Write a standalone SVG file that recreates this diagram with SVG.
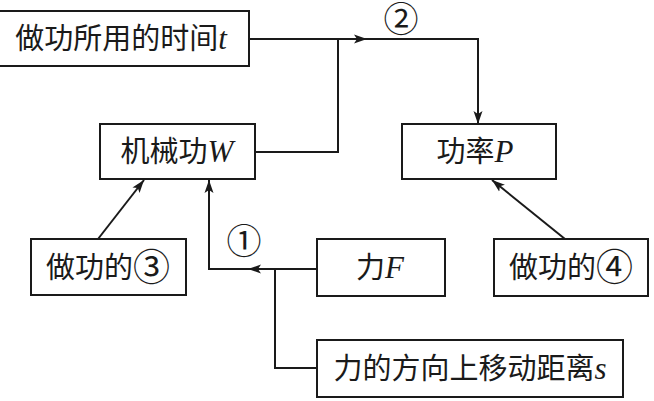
<svg xmlns="http://www.w3.org/2000/svg" width="654" height="401" viewBox="0 0 654 401">
<style>
.box{fill:#fff;stroke:#1a1a1a;stroke-width:2}
.t{font-family:"Noto Sans CJK SC","Noto Sans",sans-serif;font-size:29px;fill:#1a1a1a;text-anchor:middle}
.v{font-family:"Liberation Serif",serif;font-style:italic;font-size:31px}
.c{fill:none;stroke:#1a1a1a;stroke-width:2}
.n{font-family:"Noto Sans CJK SC",sans-serif;font-size:35px;fill:#1a1a1a;text-anchor:middle}
.d{font-family:"Noto Sans CJK SC",sans-serif;font-size:37px}
</style>
<defs>
<marker id="ah" markerUnits="userSpaceOnUse" markerWidth="14" markerHeight="10" refX="13" refY="5" orient="auto">
<path d="M0,0.5 L13,5 L0,9.5 L3,5 z" fill="#1a1a1a"/>
</marker>
</defs>
<rect width="654" height="401" fill="#fff"/>
<g id="connectors">
<path class="c" d="M249,39 H367" marker-end="url(#ah)"/>
<path class="c" d="M365,39 H478 V124" marker-end="url(#ah)"/>
<path class="c" d="M255,152 H338 V39"/>
<path class="c" d="M98,239 L144,180" marker-end="url(#ah)"/>
<path class="c" d="M317,269 H248" marker-end="url(#ah)"/>
<path class="c" d="M250,269 H209 V180" marker-end="url(#ah)"/>
<path class="c" d="M317,368 H275 V269"/>
<path class="c" d="M565,239 L492,180" marker-end="url(#ah)"/>
<text class="n" x="401" y="32">②</text>
<text class="n" x="244" y="254">①</text>
</g>
<g id="time">
<rect class="box" x="-1" y="11" width="250" height="55"/>
<text class="t" x="121" y="49">做功所用的时间<tspan class="v">t</tspan></text>
</g>
<g id="work">
<rect class="box" x="100" y="124" width="155" height="55"/>
<text class="t" x="177" y="162">机械功<tspan class="v">W</tspan></text>
</g>
<g id="power">
<rect class="box" x="402" y="124" width="154" height="55"/>
<text class="t" x="475" y="162">功率<tspan class="v">P</tspan></text>
</g>
<g id="work3">
<rect class="box" x="31" y="239" width="155" height="56"/>
<text class="t" x="108" y="278">做功的<tspan class="d" dy="3">③</tspan></text>
</g>
<g id="force">
<rect class="box" x="317" y="239" width="128" height="57"/>
<text class="t" x="380" y="278">力<tspan class="v">F</tspan></text>
</g>
<g id="work4">
<rect class="box" x="494" y="239" width="154" height="57"/>
<text class="t" x="571" y="278">做功的<tspan class="d" dy="3">④</tspan></text>
</g>
<g id="distance">
<rect class="box" x="317" y="340" width="306" height="57"/>
<text class="t" x="470" y="379">力的方向上移动距离<tspan class="v">s</tspan></text>
</g>
</svg>
